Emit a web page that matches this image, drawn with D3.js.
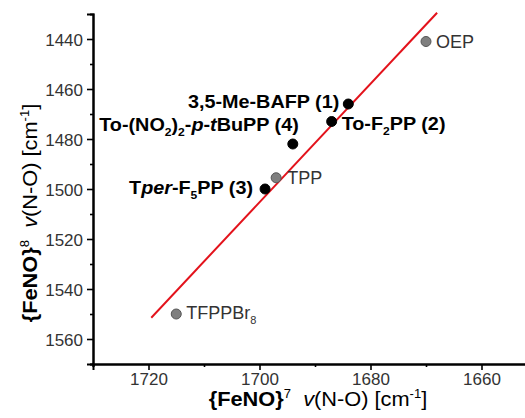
<!DOCTYPE html>
<html>
<head>
<meta charset="utf-8">
<script src="https://cdn.jsdelivr.net/npm/d3@7"></script>
<style>
  body { margin: 0; background: #fff; }
  svg { display: block; font-family: "Liberation Sans", Arial, sans-serif; }
  .tick text { fill: #333; font-size: 17px; }
  .ptlabel { font-size: 18px; }
</style>
</head>
<body>
<div id="chart"></div>
<script>
(function () {
    // --- datos ---
    const compounds = ["OEP", "3,5-Me-BAFP (1)", "To-F2PP (2)", "To-(NO2)2-p-tBuPP (4)", "TPP", "Tper-F5PP (3)", "TFPPBr8"];
    const nuFeNO7 = [1670, 1684, 1687, 1694, 1697, 1699, 1715];
    const nuFeNO8 = [1441, 1466, 1473, 1482, 1495.5, 1500, 1550];
    const isNew = [false, true, true, true, false, true, false];
    // trozos de texto de cada etiqueta: [texto, estilo]
    const labelParts = [
        [["OEP", ""]],
        [["3,5-Me-BAFP (1)", ""]],
        [["To-F", ""], ["2", "sub"], ["PP (2)", ""]],
        [["To-(NO", ""], ["2", "sub"], [")", ""], ["2", "sub"], ["-", ""], ["p", "it"], ["-", ""], ["t", "it"], ["BuPP (4)", ""]],
        [["TPP", ""]],
        [["T", ""], ["per", "it"], ["-F", ""], ["5", "sub"], ["PP (3)", ""]],
        [["TFPPBr", ""], ["8", "sub"]]
    ];
    // recta de correlación
    const fitX = [1719.5, 1668];
    const fitY = [1551.5, 1429.5];

    const xTicks = [1720, 1700, 1680, 1660];
    const xMinor = [1730, 1710, 1690, 1670, 1650];
    const yTicks = [1440, 1460, 1480, 1500, 1520, 1540, 1560];
    const yMinor = [1450, 1470, 1490, 1510, 1530, 1550, 1570];

    const W = 525, H = 418;
    const x = d3.scaleLinear().domain([1730, 1650]).range([93, 537]);
    const y = d3.scaleLinear().domain([1430, 1570]).range([14, 364]);

    const svg = d3.select("#chart").append("svg").attr("width", W).attr("height", H);

    // colocación de etiquetas (anchor, dx, dy)
    const labelPos = [
        ["start", 10, 6], ["end", -9, 4], ["start", 10, 8.5], ["end", 6, -13],
        ["start", 11, 6], ["end", -12, 5], ["start", 10, 5]
    ];

    // ejes
    const xAxis = svg.append("g").attr("transform", `translate(0,${y(1570)})`)
        .call(d3.axisBottom(x).tickValues(xTicks).tickSize(6).tickPadding(4).tickFormat(d3.format("d")));
    svg.append("g").attr("transform", `translate(0,${y(1570)})`)
        .call(d3.axisBottom(x).tickValues(xMinor).tickSize(3).tickFormat(""));
    const yAxis = svg.append("g").attr("transform", `translate(${x(1730)},0)`)
        .call(d3.axisLeft(y).tickValues(yTicks).tickSize(6).tickPadding(4).tickFormat(d3.format("d")));
    svg.append("g").attr("transform", `translate(${x(1730)},0)`)
        .call(d3.axisLeft(y).tickValues(yMinor).tickSize(3).tickFormat(""));
    svg.selectAll(".domain").attr("stroke", "#000").attr("stroke-width", 2);
    svg.selectAll(".tick line").attr("stroke", "#000").attr("stroke-width", 1.6);
    xAxis.selectAll(".tick text").attr("dy", "0.66em");
    yAxis.selectAll(".tick text").attr("dy", "0.36em");

    // línea roja
    svg.append("line")
        .attr("x1", x(fitX[0])).attr("y1", y(fitY[0]))
        .attr("x2", x(fitX[1])).attr("y2", y(fitY[1]))
        .attr("stroke", "#e3121b").attr("stroke-width", 2);

    // puntos
    const idx = d3.range(compounds.length);
    svg.selectAll("circle.pt").data(idx).enter().append("circle")
        .attr("class", "pt")
        .attr("cx", i => x(nuFeNO7[i])).attr("cy", i => y(nuFeNO8[i]))
        .attr("r", 5)
        .attr("fill", i => isNew[i] ? "#000" : "#7f7f7f")
        .attr("stroke", i => isNew[i] ? "#000" : "#555")
        .attr("stroke-width", 1)
        .append("title").text(i => compounds[i]);

    // etiquetas (las negritas van algo estiradas en horizontal, como en el original)
    idx.forEach(i => {
        const [anchor, dx, dy] = labelPos[i];
        const sx = isNew[i] ? 1.1 : 1.0;
        const t = svg.append("text").attr("class", "ptlabel")
            .attr("transform", `translate(${x(nuFeNO7[i]) + dx},${y(nuFeNO8[i]) + dy}) scale(${sx},1)`)
            .attr("text-anchor", anchor)
            .attr("font-weight", isNew[i] ? "bold" : "normal")
            .attr("fill", isNew[i] ? "#000" : "#333");
        let shifted = 0;
        labelParts[i].forEach(([s, st]) => {
            const ts = t.append("tspan").text(s);
            if (st === "sub") {
                ts.attr("dy", 5 - shifted).attr("font-size", "11px");
                shifted = 5;
            } else {
                if (shifted) { ts.attr("dy", -shifted); shifted = 0; }
                if (st === "it") ts.attr("font-style", "italic");
            }
        });
    });

    // títulos de ejes
    function axisTitle(g, sup) {
        g.append("tspan").attr("font-weight", "bold").text("{FeNO}");
        g.append("tspan").attr("font-size", "12px").attr("dy", -8).text(sup);
        g.append("tspan").attr("dy", 8).text("\u00a0 ");
        g.append("tspan").attr("font-style", "italic").text("v");
        g.append("tspan").text("(N-O) [cm");
        g.append("tspan").attr("font-size", "12px").attr("dy", -8).text("-1");
        g.append("tspan").attr("dy", 8).text("]");
    }
    const xt = svg.append("text").attr("transform", "translate(318,406) scale(1.09,1)")
        .attr("text-anchor", "middle").attr("font-size", "20px").attr("fill", "#000");
    axisTitle(xt, "7");
    const yt = svg.append("text").attr("transform", "translate(37,213) rotate(-90) scale(1.09,1)")
        .attr("text-anchor", "middle").attr("font-size", "20px").attr("fill", "#000");
    axisTitle(yt, "8");
})();
</script>
</body>
</html>
